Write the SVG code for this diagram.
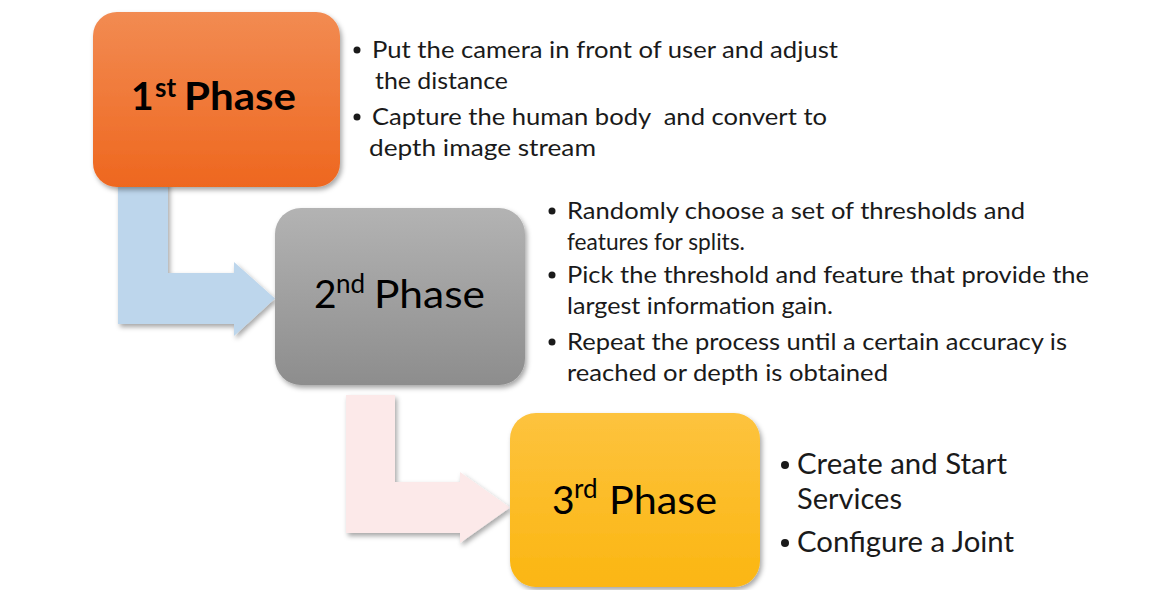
<svg xmlns="http://www.w3.org/2000/svg" width="1165" height="590" viewBox="0 0 1165 590">
  <defs>
    <linearGradient id="gOrange" x1="0" y1="0" x2="0" y2="1">
      <stop offset="0" stop-color="#f28b52"/>
      <stop offset="1" stop-color="#ee671f"/>
    </linearGradient>
    <linearGradient id="gGray" x1="0" y1="0" x2="0" y2="1">
      <stop offset="0" stop-color="#b3b3b3"/>
      <stop offset="1" stop-color="#8d8d8d"/>
    </linearGradient>
    <linearGradient id="gYellow" x1="0" y1="0" x2="0" y2="1">
      <stop offset="0" stop-color="#fdc33e"/>
      <stop offset="1" stop-color="#fbb612"/>
    </linearGradient>
    <filter id="shadow" x="-10%" y="-10%" width="125%" height="130%">
      <feDropShadow dx="2" dy="3" stdDeviation="2.5" flood-color="#000" flood-opacity="0.35"/>
    </filter>
    <style>
      .lbl { font-family: Lato, "Open Sans", "Liberation Sans", sans-serif; font-size: 39px; fill: #000; }
      .sup { font-family: Lato, "Open Sans", "Liberation Sans", sans-serif; font-size: 26px; fill: #000; }
      .b { font-weight: 700; }
      .txt { font-family: Lato, "Open Sans", "Liberation Sans", sans-serif; font-size: 23.5px; fill: #1a1a1a; white-space: pre; }
      .txt3 { font-family: Lato, "Open Sans", "Liberation Sans", sans-serif; font-size: 28px; fill: #1a1a1a; }
      .dot { fill: #1a1a1a; }
    </style>
  </defs>

  <rect width="1165" height="590" fill="#ffffff"/>

  <!-- bent block arrows linking the phases -->
  <g id="connectors" filter="url(#shadow)">
    <path id="arrow-1-2" d="M118,180 L168,180 L168,273 L234,273 L234,262 L275,298.5 L234,336 L234,324 L118,324 Z" fill="#bdd6ec"/>
    <path id="arrow-2-3" d="M346,395 L395,395 L395,482 L460,482 L460,472 L510,507.5 L460,543 L460,533 L346,533 Z" fill="#fce9e9"/>
  </g>

  <!-- phase 1 -->
  <g id="phase1">
    <rect x="93" y="12" width="247" height="175" rx="24" fill="url(#gOrange)" filter="url(#shadow)"/>
    <text class="lbl b" x="131" y="110">1</text>
    <text class="sup b" x="155" y="97">st</text>
    <text class="lbl b" x="184" y="110" textLength="112" lengthAdjust="spacingAndGlyphs">Phase</text>
  </g>
  <g id="phase1-notes">
    <circle class="dot" cx="357" cy="50" r="3.5"/>
    <text class="txt" x="372" y="58" textLength="466" lengthAdjust="spacingAndGlyphs">Put the camera in front of user and adjust</text>
    <text class="txt" x="375" y="89" textLength="133" lengthAdjust="spacingAndGlyphs">the distance</text>
    <circle class="dot" cx="357" cy="117" r="3.5"/>
    <text class="txt" x="372" y="125" textLength="455" lengthAdjust="spacingAndGlyphs">Capture the human body  and convert to</text>
    <text class="txt" x="369" y="156" textLength="227" lengthAdjust="spacingAndGlyphs">depth image stream</text>
  </g>

  <!-- phase 2 -->
  <g id="phase2">
    <rect x="275" y="208" width="250" height="177" rx="26" fill="url(#gGray)" filter="url(#shadow)"/>
    <text class="lbl" x="314" y="308">2</text>
    <text class="sup" x="336" y="293">nd</text>
    <text class="lbl" x="374" y="308" textLength="111" lengthAdjust="spacingAndGlyphs">Phase</text>
  </g>
  <g id="phase2-notes">
    <circle class="dot" cx="552" cy="211" r="3.5"/>
    <text class="txt" x="567" y="219" textLength="458" lengthAdjust="spacingAndGlyphs">Randomly choose a set of thresholds and</text>
    <text class="txt" x="567" y="250" textLength="178" lengthAdjust="spacingAndGlyphs">features for splits.</text>
    <circle class="dot" cx="552" cy="275" r="3.5"/>
    <text class="txt" x="567" y="283" textLength="522" lengthAdjust="spacingAndGlyphs">Pick the threshold and feature that provide the</text>
    <text class="txt" x="567" y="314" textLength="266" lengthAdjust="spacingAndGlyphs">largest information gain.</text>
    <circle class="dot" cx="552" cy="342" r="3.5"/>
    <text class="txt" x="567" y="350" textLength="500" lengthAdjust="spacingAndGlyphs">Repeat the process until a certain accuracy is</text>
    <text class="txt" x="567" y="381" textLength="321" lengthAdjust="spacingAndGlyphs">reached or depth is obtained</text>
  </g>

  <!-- phase 3 -->
  <g id="phase3">
    <rect x="510" y="413" width="250" height="174" rx="26" fill="url(#gYellow)" filter="url(#shadow)"/>
    <text class="lbl" x="552" y="514">3</text>
    <text class="sup" x="574" y="498">rd</text>
    <text class="lbl" x="609" y="514" textLength="108" lengthAdjust="spacingAndGlyphs">Phase</text>
  </g>
  <g id="phase3-notes">
    <circle class="dot" cx="785" cy="465" r="4"/>
    <text class="txt3" x="797" y="474" textLength="210" lengthAdjust="spacingAndGlyphs">Create and Start</text>
    <text class="txt3" x="797" y="509" textLength="105" lengthAdjust="spacingAndGlyphs">Services</text>
    <circle class="dot" cx="785" cy="543" r="4"/>
    <text class="txt3" x="797" y="552" textLength="217" lengthAdjust="spacingAndGlyphs">Configure a Joint</text>
  </g>
</svg>
